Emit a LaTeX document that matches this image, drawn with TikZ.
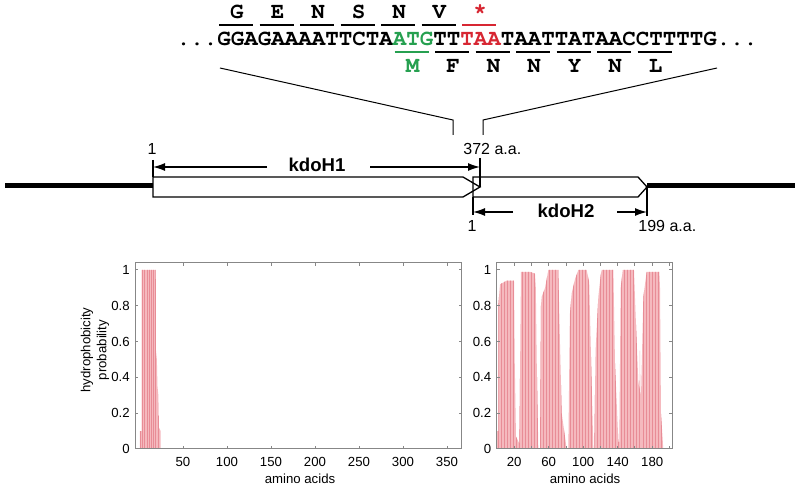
\documentclass[tikz,border=0pt]{standalone}
\usepackage{fontspec}
\setmainfont{Liberation Sans}
\setmonofont{TeX Gyre Cursor}
\usetikzlibrary{arrows.meta}
\definecolor{seqgreen}{RGB}{38,160,80}
\definecolor{seqred}{RGB}{215,38,50}
\definecolor{barpink}{RGB}{245,185,190}
\definecolor{barline}{RGB}{232,140,150}
\definecolor{axisgray}{RGB}{135,135,135}
\def\profileone{(1,0) -- (1,0.1) -- (3,0.1) -- (3,1) -- (19,1) -- (19.3,0.55)
  -- (20.3,0.5) -- (21,0.35) -- (22,0.3) -- (22.7,0.12) -- (24.6,0.1) -- (24.6,0) -- cycle}
\def\profiletwo{(0,0) -- (0,0.1) -- (1.5,0.1) -- (1.5,0.8) -- (3.5,0.92)
  -- (11,0.94) -- (19.7,0.94) -- (20.5,0.5) -- (22,0.07) -- (25.9,0.03) -- (26.3,0.2)
  -- (27.8,0.99) -- (38,0.99) -- (44,0.98) -- (45,0.9) -- (46,0.5) -- (47.9,0)
  -- (49.9,0) -- (51,0.8) -- (51.8,0.85) -- (55.7,0.9) -- (58.4,0.97) -- (59.5,1)
  -- (71.1,1) -- (72.2,0.75) -- (75,0.2) -- (80.8,0) -- (82.7,0) -- (84.5,0.75)
  -- (86.6,0.87) -- (90.5,0.95) -- (94.3,1) -- (104,1) -- (106.9,0.93) -- (108.8,0.55)
  -- (111.7,0) -- (112.8,0) -- (114.3,0.55) -- (117.5,0.85) -- (120.2,0.97) -- (121.4,1)
  -- (134.9,1) -- (136.8,0.48) -- (140.7,0.04) -- (141.8,0.04) -- (143.4,0.9)
  -- (145.8,1) -- (158.8,1) -- (160.7,0.75) -- (163.8,0.38) -- (165.4,0.32)
  -- (165.8,0.55) -- (166.3,0.32) -- (167,0.3) -- (169.7,0.85) -- (173.5,0.99)
  -- (188.2,0.99) -- (189,0.9) -- (190.1,0.2) -- (192.8,0) -- cycle}

\begin{document}
\begin{tikzpicture}[x=0.5pt,y=-0.5pt,
    seq/.style={font=\fontsize{11.25}{13}\selectfont\ttfamily\bfseries, inner sep=0pt},
    codon/.style={line width=0.65pt},
    gene/.style={line width=0.65pt},
    dim/.style={line width=0.65pt, -{Latex[length=6pt,width=4pt]}},
    genelbl/.style={font=\fontsize{9.3}{11}\selectfont\bfseries, inner sep=0pt},
    poslbl/.style={font=\fontsize{8}{10}\selectfont, inner sep=0pt},
    axis/.style={axisgray, line width=0.5pt},
    ticklbl/.style={font=\fontsize{6.6}{8}\selectfont, inner sep=0pt}]
  \useasboundingbox (0,0) rectangle (800,492);

  % sequence with the two reading frames
  \node[seq, anchor=base west] (seq) at (176.5,46)
    {...GGAGAAAATTCTA\textcolor{seqgreen}{ATG}TT\textcolor{seqred}{TAA}TAATTATAACCTTTTG...};
  \foreach \aa [count=\k from 0] in {G,E,N,S,N,V} {
    \draw[codon] ({217+40.5*\k+2},25) -- ({217+40.5*\k+36},25);
    \node[seq, anchor=base] (up\k) at ({217+40.5*\k+20},19) {\aa};
  }
  \draw[codon, seqred] (462,25) -- (496,25);
  \node[seq, anchor=base, text=seqred] (stop) at (480,19) {*};
  \draw[codon, seqgreen] (394.5,52) -- (428.5,52);
  \node[seq, anchor=base, text=seqgreen] (met) at (412.5,73) {M};
  \foreach \aa [count=\k from 0] in {F,N,N,Y,N,L} {
    \draw[codon] ({433+40.5*\k+2},52) -- ({433+40.5*\k+36},52);
    \node[seq, anchor=base] (dn\k) at ({433+40.5*\k+20},73) {\aa};
  }

  % zoom lines
  \coordinate (zl) at (220,68);
  \coordinate (zr) at (717,68);
  \draw[line width=0.5pt] (zl) -- (453,120) -- (453,135);
  \draw[line width=0.5pt] (zr) -- (483,120) -- (483,135);

  % gene map
  \draw[line width=2.5pt] (5,186) -- (153,186);
  \draw[line width=2.5pt] (647,186) -- (795,186);
  \draw[gene] (153,177) -- (463,177) -- (480,187) -- (463,197) -- (153,197) -- cycle;
  \draw[gene] (473,177) -- (638,177) -- (647,187) -- (638,197) -- (473,197) -- cycle;
  \draw[gene] (153,160) -- (153,177);
  \draw[gene] (480,158) -- (480,187);
  \draw[gene] (473,197) -- (473,215);
  \draw[gene] (647,187) -- (647,216);
  \draw[dim] (267,167) -- (153,167);
  \draw[dim] (370,167) -- (480,167);
  \draw[dim] (513,212) -- (473,212);
  \draw[dim] (617,212) -- (647,212);
  \node[genelbl, anchor=base] (h1) at (317,172) {kdoH1};
  \node[genelbl, anchor=base] (h2) at (566,218) {kdoH2};
  \node[poslbl, anchor=base] (s1) at (152,155) {1};
  \node[poslbl, anchor=base west] (e1) at (463,155) {372 a.a.};
  \node[poslbl, anchor=base] (s2) at (472,232) {1};
  \node[poslbl, anchor=base west] (e2) at (638,232) {199 a.a.};

  % kdoH1 profile
  \begin{scope}[shift={(139,449)}, x=0.44pt, y=89.5pt]
    \fill[barpink] \profileone;
    \begin{scope}
      \clip \profileone;
      \foreach \i in {1.5,4,...,25} \draw[barline, line width=0.25pt] (\i,0) -- (\i,1.04);
    \end{scope}
    \fill[barpink] (135,0) rectangle (160,0.006);
    \draw[axis] (-4.5,0) rectangle (367,1.04);
    \foreach \t in {50,100,...,350} {
      \draw[axis] (\t,0) -- (\t,0.017);
      \draw[axis] (\t,1.04) -- (\t,1.023);
      \node[ticklbl, anchor=north] (lx\t) at ([yshift=-4pt]\t,0) {\t};
    }
    \foreach \v [count=\n] in {0,0.2,0.4,0.6,0.8,1} {
      \draw[axis] (-4.5,\v) -- (-1.1,\v);
      \draw[axis] (367,\v) -- (363.6,\v);
      \node[ticklbl, anchor=east] (ly\n) at ([xshift=-2.5pt]-4.5,\v) {\v};
    }
  \end{scope}
  \node[ticklbl, anchor=base] (xl1) at (300,484) {amino acids};
  \node[ticklbl, rotate=90, align=center] (yl) at (95,350) {hydrophobicity\\probability};

  % kdoH2 profile
  \begin{scope}[shift={(497,449)}, x=0.43125pt, y=89.5pt]
    \fill[barpink] \profiletwo;
    \begin{scope}
      \clip \profiletwo;
      \foreach \i in {1,4.5,...,195} \draw[barline, line width=0.25pt] (\i,0) -- (\i,1.04);
    \end{scope}
    \draw[axis] (-0.5,0) rectangle (203,1.04);
    \foreach \t in {20,40,...,200} {
      \draw[axis] (\t,0) -- (\t,0.017);
      \draw[axis] (\t,1.04) -- (\t,1.023);
    }
    \foreach \t in {20,60,100,140,180}
      \node[ticklbl, anchor=north] (rx\t) at ([yshift=-4pt]\t,0) {\t};
    \foreach \v [count=\n] in {0,0.2,0.4,0.6,0.8,1} {
      \draw[axis] (-0.5,\v) -- (3,\v);
      \draw[axis] (203,\v) -- (199.5,\v);
      \node[ticklbl, anchor=east] (ry\n) at ([xshift=-2.5pt]-0.5,\v) {\v};
    }
  \end{scope}
  \node[ticklbl, anchor=base] (xl2) at (585,484) {amino acids};
\end{tikzpicture}
\end{document}
